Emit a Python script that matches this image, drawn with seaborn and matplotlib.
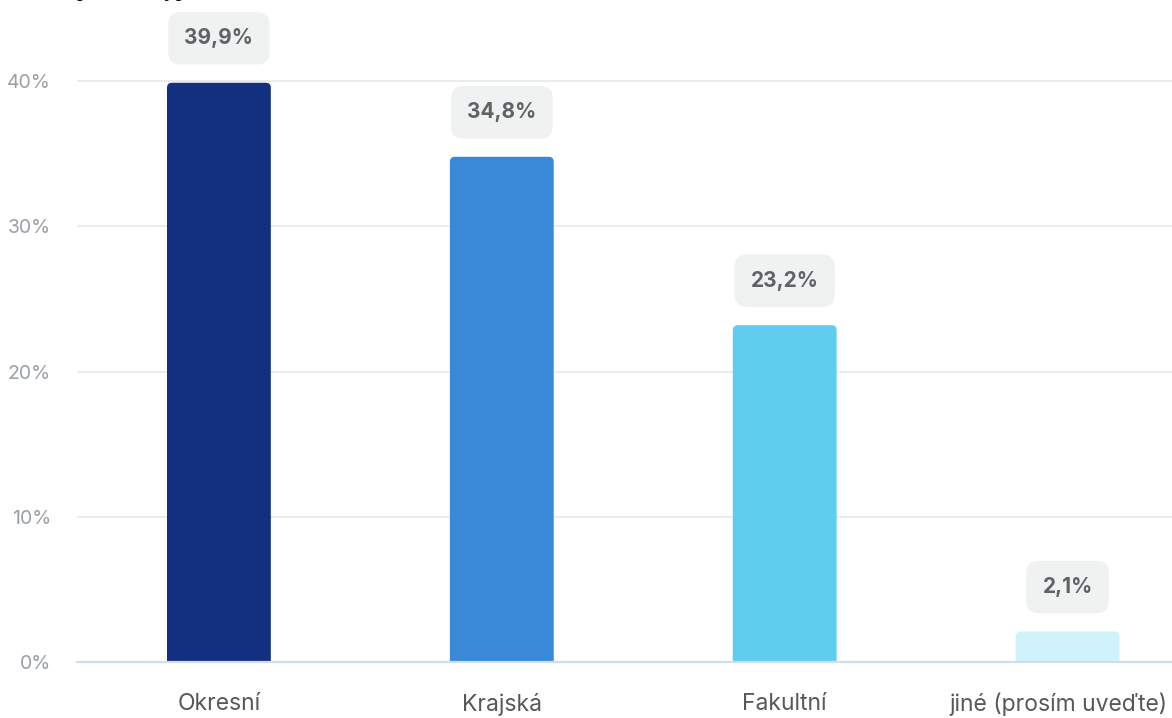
import matplotlib
matplotlib.use("Agg")
import matplotlib.pyplot as plt
import matplotlib.transforms as mtransforms
from matplotlib.patches import FancyBboxPatch
import seaborn as sns
import pandas as pd

# Hospital types and their share of responses (%)
categories = ["Okresní", "Krajská", "Fakultní", "jiné (prosím uveďte)"]
shares = [39.9, 34.8, 23.2, 2.1]
bar_colors = ["#12307F", "#388AD8", "#5FCDEE", "#CFF2FB"]
y_ticks = [0, 10, 20, 30, 40]
y_tick_labels = ["0%", "10%", "20%", "30%", "40%"]
value_labels = ["39,9%", "34,8%", "23,2%", "2,1%"]

df = pd.DataFrame({"typ": categories, "podil": shares})

sns.set_theme(style="white")
plt.rcParams["font.family"] = ["Inter", "DejaVu Sans"]

fig = plt.figure(figsize=(11.72, 7.18), dpi=100)
ax = fig.add_axes([0.0661, 0.078, 0.9655, 0.922])

sns.barplot(data=df, x="typ", y="podil", hue="typ", palette=bar_colors,
            saturation=1, width=0.367, legend=False, ax=ax, zorder=2)

ax.set_ylim(0, 45.6)
ax.set_xlim(-0.5, len(categories) - 0.5)

# Swap the square bars for ones with rounded top corners
x_units_px = 283.0
y_units_px = 14.52
radius_px = 5.0
for patch in list(ax.patches):
    x0, w, h = patch.get_x(), patch.get_width(), patch.get_height()
    color = patch.get_facecolor()
    patch.remove()
    rounded = FancyBboxPatch(
        (x0, -2), w, h + 2,
        boxstyle=f"round,pad=0,rounding_size={radius_px / x_units_px}",
        mutation_aspect=x_units_px / y_units_px,
        facecolor=color, edgecolor="none", zorder=2, clip_on=True)
    ax.add_patch(rounded)

# Value labels in soft grey rounded boxes above each bar
for i, (val, txt) in enumerate(zip(shares, value_labels)):
    ax.annotate(txt, xy=(i, val), xytext=(0, 32.0), textcoords="offset points",
                ha="center", va="center", fontsize=15, fontweight="bold",
                color="#5f6368", zorder=4, annotation_clip=False,
                bbox=dict(boxstyle="round,pad=0.78,rounding_size=0.6",
                          facecolor="#F0F1F1", edgecolor="none"))

ax.set_yticks(y_ticks)
ax.set_yticklabels(y_tick_labels)
ax.tick_params(axis="y", length=0, pad=19, labelsize=14, labelcolor="#9aa0a6")
ax.tick_params(axis="x", length=0, pad=22, labelsize=16.5, labelcolor="#55595e")
ax.set_xlabel("")
ax.set_ylabel("")

# Keep the last category label inside the canvas
last_label = ax.get_xticklabels()[-1]
last_label.set_transform(last_label.get_transform() +
                         mtransforms.ScaledTranslation(-9 / 100, 0, fig.dpi_scale_trans))

ax.grid(axis="y", color="#e8e9eb", linewidth=1.2, zorder=0)
ax.set_axisbelow(True)
for side in ["top", "right", "left"]:
    ax.spines[side].set_visible(False)
ax.spines["bottom"].set_color("#d3dbef")
ax.spines["bottom"].set_linewidth(1.6)
ax.spines["bottom"].set_zorder(3)

# Chart heading sitting at the very top edge
fig.text(0.012, 1.0 + 4.0 / 718, "Zastoupení dle typu nemocnice",
         family="Liberation Serif", style="italic", fontsize=17,
         color="black", ha="left", va="baseline")

fig.savefig("out.png", dpi=100)
